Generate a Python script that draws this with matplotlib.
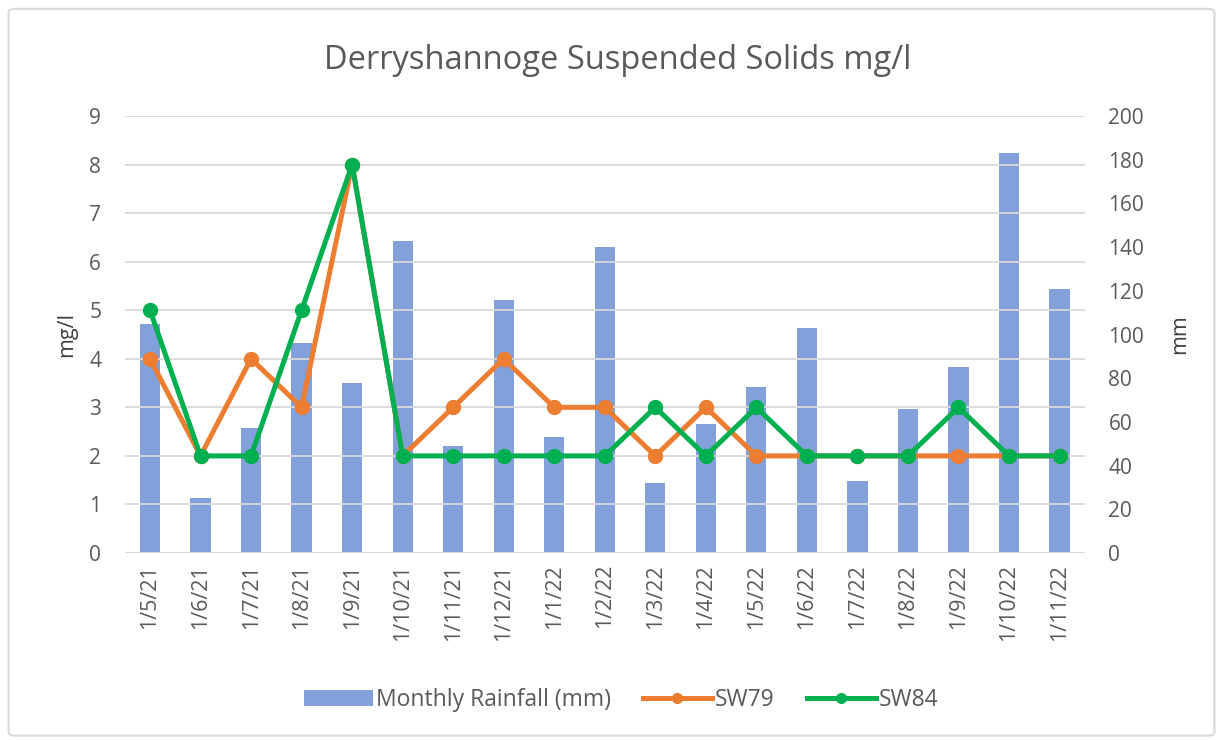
import matplotlib.pyplot as plt
import numpy as np
from matplotlib.patches import FancyBboxPatch

plt.rcParams['font.family'] = ['Open Sans', 'DejaVu Sans']

dates = ["1/5/21", "1/6/21", "1/7/21", "1/8/21", "1/9/21", "1/10/21", "1/11/21", "1/12/21",
         "1/1/22", "1/2/22", "1/3/22", "1/4/22", "1/5/22", "1/6/22", "1/7/22", "1/8/22",
         "1/9/22", "1/10/22", "1/11/22"]
rainfall = [105, 25, 57, 96, 78, 143, 49, 116, 53, 140, 32, 59, 76, 103, 33, 66, 85, 183, 121]
sw79 = [4, 2, 4, 3, 8, 2, 3, 4, 3, 3, 2, 3, 2, 2, 2, 2, 2, 2, 2]
sw84 = [5, 2, 2, 5, 8, 2, 2, 2, 2, 2, 3, 2, 3, 2, 2, 2, 3, 2, 2]

grey = '#595959'
fig = plt.figure(figsize=(12.23, 7.40), dpi=100)

# light frame around the chart like the excel export
fig.patches.append(FancyBboxPatch((0.007, 0.006), 0.986, 0.982, boxstyle="round,pad=0,rounding_size=0.005",
                                  transform=fig.transFigure, fill=False, edgecolor='#d9d9d9', linewidth=1.5))

ax = fig.add_axes([0.102, 0.2527, 0.785, 0.5905])
ax2 = ax.twinx()
x = np.arange(len(dates))

# bars go on the right axis (mm), lines on the left (mg/l)
ax2.bar(x, rainfall, width=0.4, color='#82a0da', zorder=1, label='Monthly Rainfall (mm)')
ax2.set_ylim(0, 200)
ax2.set_yticks(range(0, 201, 20))

ax.set_zorder(ax2.get_zorder() + 1)
ax.patch.set_visible(False)
ax.plot(x, sw79, color='#ed7d31', lw=3.6, marker='o', ms=10, label='SW79')
ax.plot(x, sw84, color='#00b050', lw=3.6, marker='o', ms=10, label='SW84')
ax.set_ylim(0, 9)
ax.set_yticks(range(0, 10))
ax.set_xlim(-0.5, len(dates) - 0.5)
ax.set_xticks(x)
ax.set_xticklabels(dates, rotation=90)

for a in (ax, ax2):
    for s in a.spines.values():
        s.set_visible(False)
    a.tick_params(length=0, labelsize=15, colors=grey, pad=17)
ax.tick_params(axis='x', labelsize=15.5, pad=8)
ax2.grid(False)
ax.yaxis.grid(True, color='#d9d9d9', lw=1.3)
ax.set_axisbelow(True)
ax.axhline(0, color='#d9d9d9', lw=1.3)

ax.set_ylabel("mg/l", fontsize=15.5, color='#404040', labelpad=9)
ax2.set_ylabel("mm", fontsize=15.5, color='#404040', labelpad=18)
fig.text(0.505, 0.918, "Derryshannoge Suspended Solids mg/l", ha='center', va='center',
         fontsize=23.5, color=grey)

h1, l1 = ax2.get_legend_handles_labels()
h2, l2 = ax.get_legend_handles_labels()
fig.legend(h1 + h2, l1 + l2, loc='center', bbox_to_anchor=(0.508, 0.054), ncol=3, frameon=False,
           fontsize=16.5, labelcolor=grey, handlelength=3, columnspacing=1.4, handletextpad=0.15,
           markerscale=0.7)

fig.savefig("out.png", dpi=100)
